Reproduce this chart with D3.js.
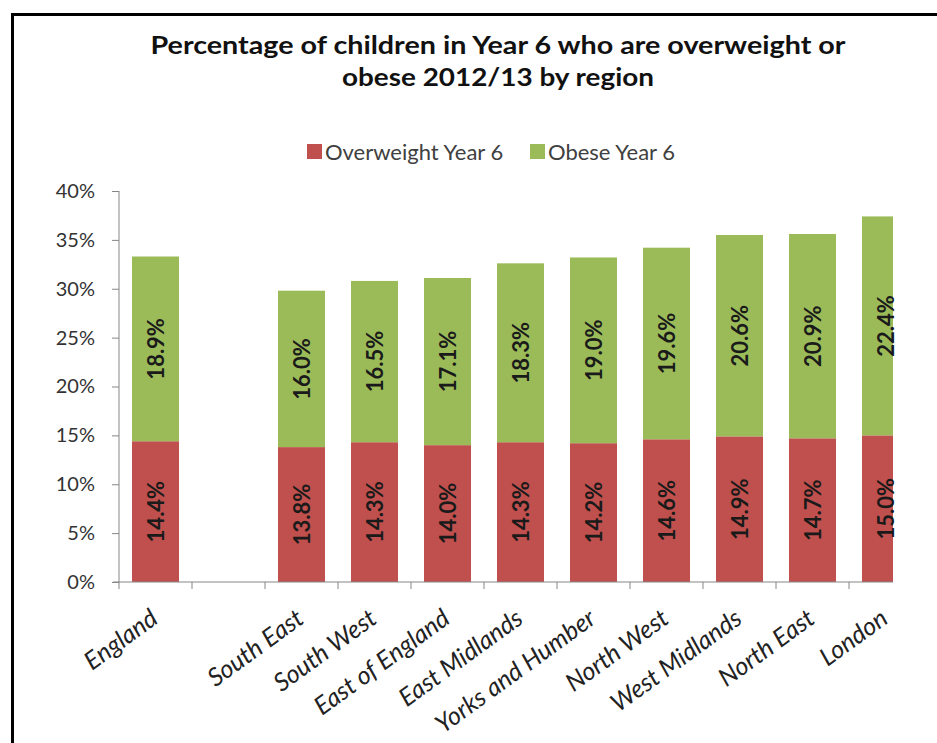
<!DOCTYPE html>
<html>
<head>
<meta charset="utf-8">
<script src="https://cdnjs.cloudflare.com/ajax/libs/d3/7.8.5/d3.min.js"></script>
<style>
  body { margin: 0; background: #fff; }
  svg { display: block; font-family: Lato, "Open Sans", sans-serif; }
</style>
</head>
<body>
<svg id="chart" width="937" height="743"></svg>
<script>
// regions in chart order ("" is the empty gap after England)
const regions = ["England", "", "South East", "South West", "East of England", "East Midlands",
  "Yorks and Humber", "North West", "West Midlands", "North East", "London"];
const overweight = [14.4, null, 13.8, 14.3, 14.0, 14.3, 14.2, 14.6, 14.9, 14.7, 15.0];
const obese = [18.9, null, 16.0, 16.5, 17.1, 18.3, 19.0, 19.6, 20.6, 20.9, 22.4];
const seriesNames = ["Overweight Year 6", "Obese Year 6"];
const seriesColors = ["#c0504d", "#9bbb59"];
const yTicks = [0, 5, 10, 15, 20, 25, 30, 35, 40];
const titleLines = ["Percentage of children in Year 6 who are overweight or", "obese 2012/13 by region"];

const svg = d3.select("#chart");

// outer frame (cut off on the right and bottom in the original)
svg.append("rect")
  .attr("x", 12.5).attr("y", 14.5)
  .attr("width", 960).attr("height", 800)
  .attr("fill", "none").attr("stroke", "#000").attr("stroke-width", 3);

// title, stretched a little to the width of the original
const titleWidths = [695, 312];
titleLines.forEach((line, i) => {
  svg.append("text")
    .attr("x", 498).attr("y", 54 + i * 32)
    .attr("text-anchor", "middle")
    .attr("font-weight", 700)
    .attr("font-size", 25)
    .attr("fill", "#111")
    .attr("textLength", titleWidths[i])
    .attr("lengthAdjust", "spacingAndGlyphs")
    .text(line);
});

// legend
const legendX = [307, 530];
seriesNames.forEach((name, i) => {
  svg.append("rect")
    .attr("x", legendX[i]).attr("y", 144)
    .attr("width", 15).attr("height", 15)
    .attr("fill", seriesColors[i]);
  svg.append("text")
    .attr("x", legendX[i] + 18).attr("y", 160)
    .attr("font-size", 22)
    .attr("fill", "#404040")
    .text(name);
});

// scales
const plotLeft = 119, plotBottom = 582, plotTop = 191;
const x = d3.scaleBand()
  .domain(regions)
  .range([plotLeft, plotLeft + 73 * regions.length])
  .paddingInner(0.356)
  .paddingOuter(0.178);
const y = d3.scaleLinear().domain([0, 40]).range([plotBottom, plotTop]);

// plot is clipped at the right edge like the source image
svg.append("clipPath").attr("id", "plotClip")
  .append("rect").attr("x", 100).attr("y", 150).attr("width", 793).attr("height", 460);
const plot = svg.append("g").attr("clip-path", "url(#plotClip)");
const labels = svg.append("g");

const rows = regions.map((r, i) => ({region: r, overweight: overweight[i], obese: obese[i]}))
  .filter(d => d.overweight != null);
const stacked = d3.stack().keys(["overweight", "obese"])(rows);

stacked.forEach((layer, li) => {
  plot.append("g").selectAll("rect")
    .data(layer)
    .join("rect")
    .attr("x", d => x(d.data.region))
    .attr("y", d => y(d[1]))
    .attr("width", x.bandwidth())
    .attr("height", d => y(d[0]) - y(d[1]))
    .attr("fill", seriesColors[li]);
  labels.append("g").selectAll("text")
    .data(layer)
    .join("text")
    .attr("transform", d => `translate(${x(d.data.region) + x.bandwidth() / 2 + 1}, ${y((d[0] + d[1]) / 2)}) rotate(-90)`)
    .attr("text-anchor", "middle")
    .attr("dy", "0.36em")
    .attr("font-size", 22)
    .attr("font-weight", 700)
    .attr("fill", "#1a1a1a")
    .text(d => (d[1] - d[0]).toFixed(1) + "%");
});

// y axis
const yAxis = svg.append("g")
  .attr("transform", `translate(${plotLeft},0)`)
  .call(d3.axisLeft(y).tickValues(yTicks).tickFormat(d => d + "%").tickSize(7).tickPadding(17));
yAxis.select(".domain").attr("stroke", "#868686").attr("d", `M0,${plotTop}V${plotBottom}`);
yAxis.selectAll(".tick line").attr("stroke", "#868686");
yAxis.selectAll(".tick text").attr("font-size", 20).attr("fill", "#333").attr("font-family", "Lato, sans-serif");

// x axis
const xAxis = plot.append("g").attr("transform", `translate(0,${plotBottom})`);
xAxis.append("line")
  .attr("x1", plotLeft - 6).attr("x2", plotLeft + 73 * regions.length)
  .attr("stroke", "#868686");
xAxis.selectAll(".tk")
  .data(regions)
  .join("line")
  .attr("class", "tk")
  .attr("x1", (d, i) => plotLeft + 73 * i).attr("x2", (d, i) => plotLeft + 73 * i)
  .attr("y1", 0).attr("y2", 7)
  .attr("stroke", "#868686");

svg.append("g").selectAll("text")
  .data(regions.filter(r => r !== ""))
  .join("text")
  .attr("transform", d => `translate(${x(d) + x.bandwidth() / 2 + 4}, ${plotBottom + 40}) rotate(-36)`)
  .attr("text-anchor", "end")
  .attr("font-size", 25)
  .attr("font-style", "italic")
  .attr("fill", "#222")
  .text(d => d);
</script>
</body>
</html>
